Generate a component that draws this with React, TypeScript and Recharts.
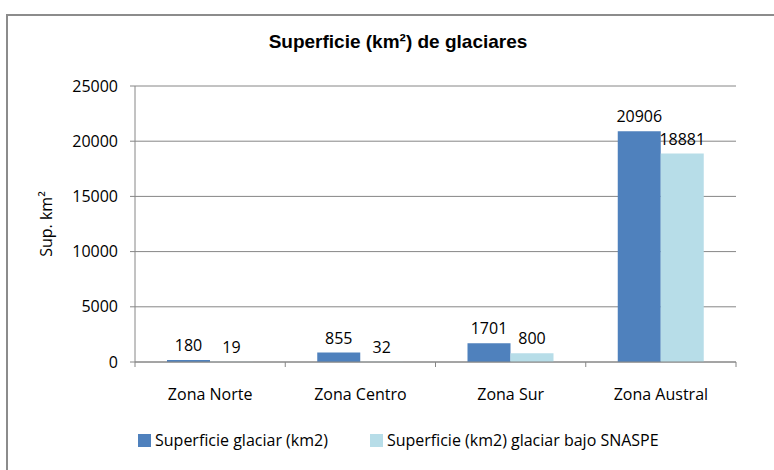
import React from 'react';
import {
  BarChart,
  Bar,
  XAxis,
  YAxis,
  CartesianGrid,
  Legend,
  LabelList,
} from 'recharts';

const zonas = ['Zona Norte', 'Zona Centro', 'Zona Sur', 'Zona Austral'];
const superficieGlaciar = [180, 855, 1701, 20906];
const superficieSnaspe = [19, 32, 800, 18881];
const yTicks = [0, 5000, 10000, 15000, 20000, 25000];
const seriesOrder = ['glaciar', 'snaspe'];

const data = zonas.map((zona, i) => ({
  zona,
  glaciar: superficieGlaciar[i],
  snaspe: superficieSnaspe[i],
}));

const bodyFont = '"Open Sans", sans-serif';
const titleFont = '"Liberation Sans", Arial, sans-serif';
const gray = '#868686';

// category label plus the small tick marks between categories
function ZonaTick(props: any) {
  const { x, y, payload, index, width } = props;
  const half = payload.offset > 0 ? payload.offset : width / zonas.length / 2;
  return (
    <g>
      <line x1={x - half} y1={y} x2={x - half} y2={y + 5} stroke={gray} />
      {index === zonas.length - 1 && (
        <line x1={x + half} y1={y} x2={x + half} y2={y + 5} stroke={gray} />
      )}
      <text
        x={x}
        y={y + 38}
        textAnchor="middle"
        fill="#000"
        fontSize={16}
        fontFamily={bodyFont}
      >
        {payload.value}
      </text>
    </g>
  );
}

function renderLegend(props: any) {
  // keep the legend in series order (recharts sorts by name otherwise)
  const payload = [...props.payload].sort(
    (a: any, b: any) => seriesOrder.indexOf(a.dataKey) - seriesOrder.indexOf(b.dataKey)
  );
  return (
    <div style={{ display: 'flex', alignItems: 'center', fontFamily: bodyFont, fontSize: 16, lineHeight: '20px', color: '#000' }}>
      {payload.map((entry: any, i: number) => (
        <div key={i} style={{ display: 'flex', alignItems: 'center', marginRight: 42 }}>
          <span style={{ display: 'inline-block', width: 13, height: 13, background: entry.color, marginRight: 4 }} />
          <span style={{ whiteSpace: 'nowrap' }}>{entry.value}</span>
        </div>
      ))}
    </div>
  );
}

export default function App() {
  return (
    <div style={{ position: 'absolute', left: 0, top: 0, width: 774, height: 470, overflow: 'hidden', background: '#fff' }}>
      <div
        style={{
          position: 'absolute',
          left: 6,
          top: 14,
          width: 800,
          height: 500,
          borderTop: '2px solid #8c8c8c',
          borderLeft: '2px solid #8c8c8c',
        }}
      />
      <div
        style={{
          position: 'absolute',
          left: 0,
          top: 31,
          width: 796,
          textAlign: 'center',
          fontFamily: titleFont,
          fontWeight: 'bold',
          fontSize: 19,
          lineHeight: '22px',
          color: '#000',
        }}
      >
        Superficie (km²) de glaciares
      </div>
      <div style={{ position: 'absolute', left: 0, top: 0 }}>
        <BarChart
          width={774}
          height={470}
          data={data}
          margin={{ top: 86, right: 38, bottom: 48, left: 0 }}
          barCategoryGap={32}
          barGap={0}
        >
          <CartesianGrid vertical={false} stroke={gray} />
          <XAxis
            dataKey="zona"
            height={40}
            stroke={gray}
            tickLine={false}
            tickSize={0}
            tickMargin={0}
            tick={<ZonaTick />}
            interval={0}
          />
          <YAxis
            width={135}
            domain={[0, 25000]}
            ticks={yTicks}
            stroke={gray}
            tickSize={5}
            tickMargin={12}
            tick={{ fill: '#000', fontSize: 16, fontFamily: bodyFont }}
            label={{
              value: 'Sup. km²',
              content: (p: any) => {
                const vb = p.viewBox;
                const cx = vb.x + 46;
                const cy = vb.y + vb.height / 2;
                return (
                  <text
                    x={cx}
                    y={cy}
                    transform={`rotate(-90 ${cx} ${cy})`}
                    textAnchor="middle"
                    dominantBaseline="central"
                    fill="#000"
                    fontSize={16}
                    fontFamily={bodyFont}
                  >
                    Sup. km²
                  </text>
                );
              },
            }}
          />
          <Legend
            verticalAlign="bottom"
            height={20}
            content={renderLegend}
            wrapperStyle={{ left: 138, top: 430, bottom: 'auto', width: 620 }}
          />
          <Bar dataKey="glaciar" name="Superficie glaciar (km2)" fill="#4F81BD" isAnimationActive={false}>
            <LabelList dataKey="glaciar" position="top" offset={9} fill="#000" fontSize={16} fontFamily={bodyFont} />
          </Bar>
          <Bar dataKey="snaspe" name="Superficie (km2) glaciar bajo SNASPE" fill="#B7DDE8" isAnimationActive={false}>
            <LabelList dataKey="snaspe" position="top" offset={9} fill="#000" fontSize={16} fontFamily={bodyFont} />
          </Bar>
        </BarChart>
      </div>
    </div>
  );
}
